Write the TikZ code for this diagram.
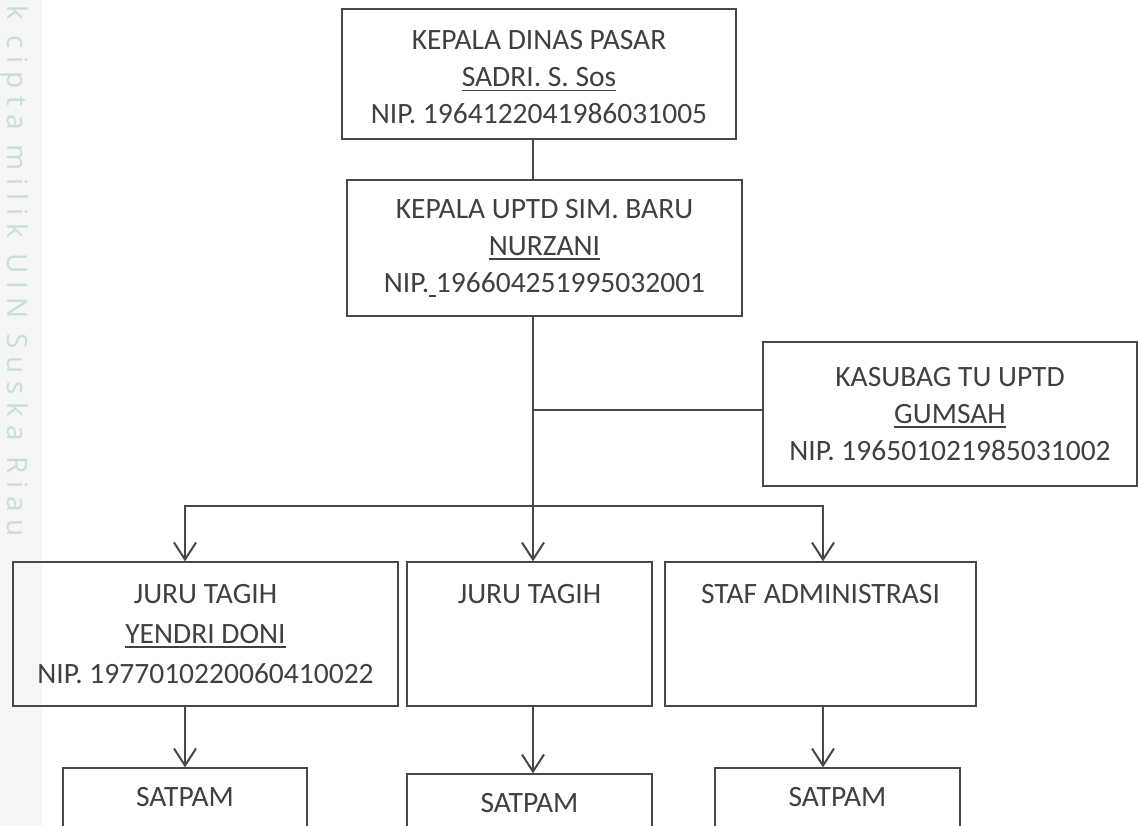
\documentclass[tikz,border=0pt]{standalone}
\usepackage{fontspec}
\setmainfont{Carlito}
\newfontfamily\wmfont{Open Sans}[LetterSpace=28]
\usetikzlibrary{arrows.meta}
\definecolor{txt}{HTML}{404040}
\definecolor{ln}{HTML}{474747}
\definecolor{wm}{HTML}{C6DED6}
\definecolor{wmbg}{HTML}{F5F5F5}
\newcommand\uln[1]{\setbox0\hbox{#1}\rlap{\rule[-4.5pt]{\wd0}{1.6pt}}\box0\relax}
\begin{document}
\begin{tikzpicture}[x=1pt,y=-1pt,
  box/.style={draw=ln, line width=1.3pt, rectangle, align=center, text=txt,
    font=\fontsize{29.5}{37}\selectfont, inner sep=0pt},
  lowbox/.style={box, font=\fontsize{29.5}{40}\selectfont},
  conn/.style={draw=ln, line width=2pt},
  arr/.style={conn, -{Straight Barb[length=17pt,width=22pt]}}]
\path[use as bounding box] (0,0) rectangle (1138,826);
\clip (0,0) rectangle (1138,826);
% watermark
\fill[wmbg] (0,0) rectangle (42,826);
\node[rotate=-90, anchor=east, text=wm, font=\wmfont\fontsize{28}{28}\selectfont, inner sep=0pt] (wmk) at (15,537) {k cipta milik UIN Suska Riau};
% boxes
\node[box, minimum width=394pt, minimum height=130pt] (dinas) at (539,74)
  {\rule{0pt}{25.5pt}KEPALA DINAS PASAR\\\uln{SADRI. S. Sos}\\NIP. 1964122041986031005};
\node[box, minimum width=395pt, minimum height=136pt] (uptd) at (544.5,248)
  {KEPALA UPTD SIM. BARU\\\uln{NURZANI}\\NIP.\uln{\ }196604251995032001};
\node[box, minimum width=374pt, minimum height=144pt] (kasubag) at (950,414)
  {KASUBAG TU UPTD\\\uln{GUMSAH}\\NIP. 196501021985031002};
\node[lowbox, minimum width=385pt, minimum height=144pt] (jt1) at (205.5,634)
  {JURU TAGIH\\\uln{YENDRI DONI}\\NIP. 1977010220060410022};
\node[lowbox, minimum width=245pt, minimum height=144pt] (jt2) at (529.5,634)
  {JURU TAGIH\\~\\~};
\node[lowbox, minimum width=311pt, minimum height=144pt] (staf) at (820.5,634)
  {STAF ADMINISTRASI\\~\\~};
\node[box, minimum width=244pt, minimum height=95pt] (sat1) at (185,815.5) {SATPAM\\~};
\node[box, minimum width=245pt, minimum height=95pt] (sat2) at (529.5,821.5) {SATPAM\\~};
\node[box, minimum width=245pt, minimum height=95pt] (sat3) at (837.5,815.5) {SATPAM\\~};
% connectors
\coordinate (tx) at (533,0);
\coordinate (kb) at (0,410);
\coordinate (hb) at (0,506);
\coordinate (la) at (185,0);
\coordinate (ra) at (823,0);
\draw[conn] (dinas.south -| tx) -- (uptd.north -| tx);
\draw[arr] (uptd.south -| tx) -- (jt2.north -| tx);
\draw[conn] (tx |- kb) -- (kasubag.west |- kb);
\draw[arr] (tx |- hb) -| (jt1.north -| la);
\draw[arr] (tx |- hb) -| (staf.north -| ra);
\draw[arr] (jt1.south -| sat1.north) -- (sat1.north);
\draw[arr] (jt2.south -| tx) -- (sat2.north -| tx);
\draw[arr] (staf.south -| ra) -- (sat3.north -| ra);
\end{tikzpicture}
\end{document}
